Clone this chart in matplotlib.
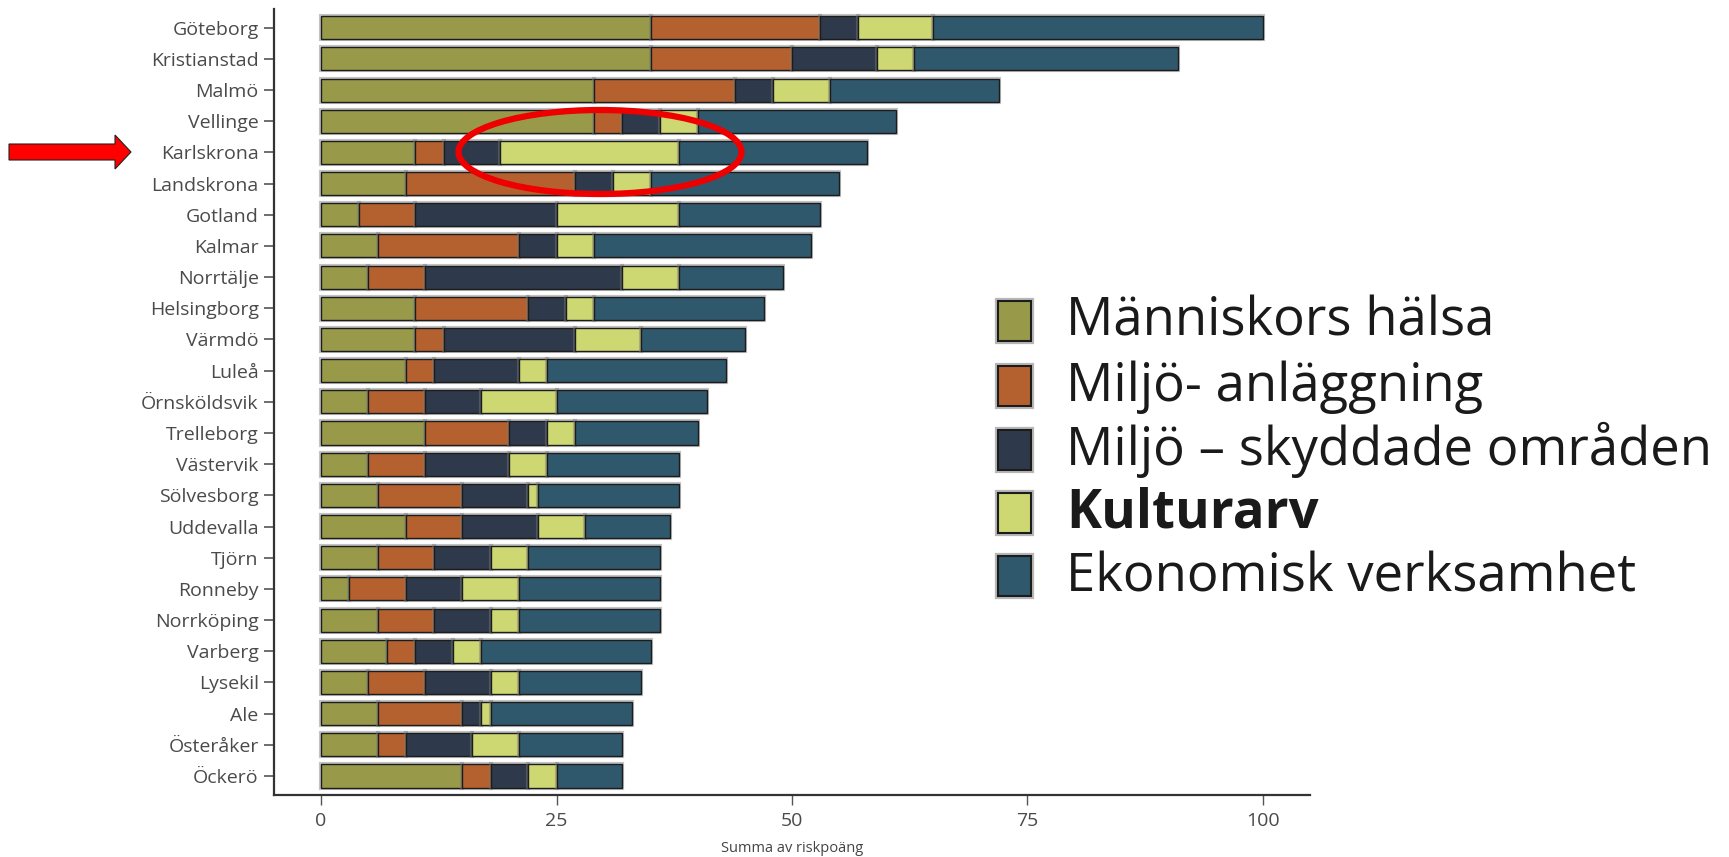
import matplotlib
matplotlib.use("Agg")
import matplotlib.pyplot as plt
import matplotlib.patheffects as pe
from matplotlib.patches import Rectangle, Ellipse, Polygon
import numpy as np

kommuner = ["Göteborg", "Kristianstad", "Malmö", "Vellinge", "Karlskrona", "Landskrona",
            "Gotland", "Kalmar", "Norrtälje", "Helsingborg", "Värmdö", "Luleå",
            "Örnsköldsvik", "Trelleborg", "Västervik", "Sölvesborg", "Uddevalla", "Tjörn",
            "Ronneby", "Norrköping", "Varberg", "Lysekil", "Ale", "Österåker", "Öckerö"]

manniskors_halsa = [35, 35, 29, 29, 10, 9, 4, 6, 5, 10, 10, 9, 5, 11, 5, 6, 9, 6, 3, 6, 7, 5, 6, 6, 15]
miljo_anlaggning = [18, 15, 15, 3, 3, 18, 6, 15, 6, 12, 3, 3, 6, 9, 6, 9, 6, 6, 6, 6, 3, 6, 9, 3, 3]
miljo_skyddade = [4, 9, 4, 4, 6, 4, 15, 4, 21, 4, 14, 9, 6, 4, 9, 7, 8, 6, 6, 6, 4, 7, 2, 7, 4]
kulturarv = [8, 4, 6, 4, 19, 4, 13, 4, 6, 3, 7, 3, 8, 3, 4, 1, 5, 4, 6, 3, 3, 3, 1, 5, 3]
ekonomisk = [35, 28, 18, 21, 20, 20, 15, 23, 11, 18, 11, 19, 16, 13, 14, 15, 9, 14, 15, 15, 18, 13, 15, 11, 7]

serie_namn = ["Människors hälsa", "Miljö- anläggning", "Miljö – skyddade områden",
              "Kulturarv", "Ekonomisk verksamhet"]
farger = ["#989a4a", "#b5612f", "#2e3a4b", "#cdd872", "#30586d"]
xticks = [0, 25, 50, 75, 100]
xlabel = "Summa av riskpoäng"

plt.rcParams["font.family"] = ["Open Sans", "DejaVu Sans"]

W, H = 1729, 857
fig = plt.figure(figsize=(W / 100, H / 100), dpi=100)
ax = fig.add_axes([274 / W, 1 - 795 / H, (1310 - 274) / W, (795 - 9) / H])

serier = [manniskors_halsa, miljo_anlaggning, miljo_skyddade, kulturarv, ekonomisk]
y = np.arange(len(kommuner))
left = np.zeros(len(kommuner))
shadow = [pe.Stroke(linewidth=3.0, foreground="#7a7a7a", alpha=0.45), pe.Normal()]
for vals, col, name in zip(serier, farger, serie_namn):
    v = np.array(vals, dtype=float)
    bars = ax.barh(y, v, left=left, height=0.74, color=col, edgecolor="#1c1c1c",
                   linewidth=1.0, label=name)
    for b in bars:
        b.set_path_effects(shadow)
    left += v

ax.set_ylim(len(kommuner) - 1 + 0.61, -0.6)
ax.set_xlim(-5, 105)
ax.set_yticks(y)
ax.set_yticklabels(kommuner)
ax.set_xticks(xticks)
ax.set_xlabel(xlabel, fontsize=10.5, color="#444444", labelpad=8)
for s in ["top", "right"]:
    ax.spines[s].set_visible(False)
for s in ["left", "bottom"]:
    ax.spines[s].set_color("#333333")
    ax.spines[s].set_linewidth(1.6)
ax.tick_params(axis="y", length=7, width=1.2, color="#555555", labelsize=14, labelcolor="#4a4a4a", pad=4)
ax.tick_params(axis="x", length=7, width=1.0, color="#555555", labelsize=14, labelcolor="#4a4a4a", pad=5)

# overlay for annotations and legend (pixel coordinates)
ov = fig.add_axes([0, 0, 1, 1], zorder=10)
ov.set_xlim(0, W)
ov.set_ylim(H, 0)
ov.axis("off")
ov.patch.set_alpha(0)

# red ellipse
ov.add_patch(Ellipse((600, 152), 283, 84, fill=False, edgecolor="#ee0000", linewidth=4.5))
# red arrow
arrow = Polygon([(9, 144), (115, 144), (115, 135), (131, 152), (115, 169), (115, 160), (9, 160)],
                closed=True, facecolor="#ff0000", edgecolor="#222222", linewidth=0.8)
ov.add_patch(arrow)

# legend
row_y = [321, 386, 450, 513, 576]
for i, (name, col) in enumerate(zip(serie_namn, farger)):
    cy = row_y[i]
    r = Rectangle((998, cy - 20), 33, 40, facecolor=col, edgecolor="#1c1c1c", linewidth=1.5)
    r.set_path_effects([pe.Stroke(linewidth=4.5, foreground="#888888", alpha=0.6), pe.Normal()])
    ov.add_patch(r)
    ov.text(1066, cy + 15, name, fontsize=38,
            fontweight="bold" if name == "Kulturarv" else "normal",
            color="#1a1a1a", va="baseline", ha="left")

fig.savefig("out.png", dpi=100)
